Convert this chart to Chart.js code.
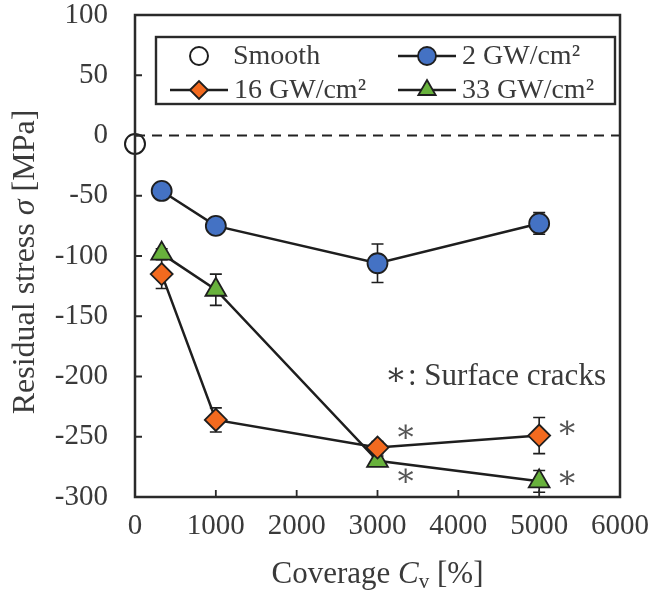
<!DOCTYPE html>
<html>
<head>
<meta charset="utf-8">
<script src="https://cdn.jsdelivr.net/npm/chart.js@4.4.6/dist/chart.umd.min.js"></script>
<style>
  html, body { margin: 0; background: #fff; }
</style>
</head>
<body>
<canvas id="chart" width="654" height="602"></canvas>
<script>
  // values
  const coverage = [330, 1000, 3000, 5000];
  const smoothCoverage = [0];
  const smoothStress = [-7];
  const stress2 = [-46, -75, -106, -73];
  const err2 = [3, 4, 16, 9];
  const stress16 = [-115, -236, -259, -249];
  const err16 = [12, 10, 5, 15];
  const stress33 = [-98, -128, -270, -287];
  const err33 = [4, 13, 4, 9];
  const xTicks = [0, 1000, 2000, 3000, 4000, 5000, 6000];
  const yTicks = [100, 50, 0, -50, -100, -150, -200, -250, -300];
  const zeroLine = [0, 6000];

  const serif = "'Liberation Serif', 'DejaVu Serif', serif";
  const ink = "#1e1e1e";
  const textGray = "#3a3a3a";

  function points(xs, ys) {
    return xs.map((x, i) => ({ x: x, y: ys[i] }));
  }

  function series(label, ys, errs, color, style, radius) {
    return {
      label: label,
      data: points(coverage, ys),
      errors: errs,
      showLine: true,
      borderColor: ink,
      borderWidth: 2.5,
      pointStyle: style,
      pointRadius: radius,
      pointBackgroundColor: color,
      pointBorderColor: ink,
      pointBorderWidth: 1.8,
      clip: false
    };
  }

  const datasets = [
    {
      label: "zero",
      data: zeroLine.map(x => ({ x: x, y: 0 })),
      showLine: true,
      borderColor: "#222",
      borderWidth: 2.2,
      borderDash: [10, 7],
      pointRadius: 0
    },
    series("16 GW/cm²", stress16, err16, "#f26a1f", "rectRot", 11),
    series("33 GW/cm²", stress33, err33, "#68b23c", "triangle", 12),
    series("2 GW/cm²", stress2, err2, "#4472c4", "circle", 10),
    {
      label: "Smooth",
      data: points(smoothCoverage, smoothStress),
      pointStyle: "circle",
      pointRadius: 10,
      pointBackgroundColor: "#fff",
      pointBorderColor: ink,
      pointBorderWidth: 2,
      clip: false
    }
  ];

  // crack markers: dataset label, point index, offset from the point
  const cracks = [
    { set: "16 GW/cm²", i: 2, dx: 28, dy: -14 },
    { set: "33 GW/cm²", i: 2, dx: 28, dy: 17 },
    { set: "16 GW/cm²", i: 3, dx: 28, dy: -6 },
    { set: "33 GW/cm²", i: 3, dx: 28, dy: -2 }
  ];

  function drawRuns(ctx, runs, x, y, align) {
    let total = 0;
    runs.forEach(r => { ctx.font = r.font; total += ctx.measureText(r.text).width; });
    let cx = align === "center" ? x - total / 2 : x;
    runs.forEach(r => {
      ctx.font = r.font;
      ctx.fillText(r.text, cx, y + (r.dy || 0));
      cx += ctx.measureText(r.text).width;
    });
  }

  const decor = {
    id: "decor",
    beforeDatasetsDraw(chart) {
      const ctx = chart.ctx;
      const xs = chart.scales.x, ys = chart.scales.y;
      ctx.save();
      ctx.strokeStyle = ink;
      ctx.lineWidth = 1.6;
      chart.data.datasets.forEach(ds => {
        if (!ds.errors) return;
        ds.data.forEach((p, i) => {
          const px = xs.getPixelForValue(p.x);
          const top = ys.getPixelForValue(p.y + ds.errors[i]);
          const bot = ys.getPixelForValue(p.y - ds.errors[i]);
          ctx.beginPath();
          ctx.moveTo(px, top); ctx.lineTo(px, bot);
          ctx.moveTo(px - 6, top); ctx.lineTo(px + 6, top);
          ctx.moveTo(px - 6, bot); ctx.lineTo(px + 6, bot);
          ctx.stroke();
        });
      });
      ctx.restore();
    },
    afterDraw(chart) {
      const ctx = chart.ctx;
      const a = chart.chartArea;
      const xs = chart.scales.x, ys = chart.scales.y;
      ctx.save();

      // frame and inner ticks
      ctx.strokeStyle = "#2a2a2a";
      ctx.lineWidth = 2.5;
      ctx.strokeRect(a.left, a.top, a.right - a.left, a.bottom - a.top);
      ctx.lineWidth = 1.8;
      ctx.beginPath();
      xTicks.forEach(v => {
        const px = xs.getPixelForValue(v);
        ctx.moveTo(px, a.bottom); ctx.lineTo(px, a.bottom - 7);
      });
      yTicks.forEach(v => {
        const py = ys.getPixelForValue(v);
        ctx.moveTo(a.left, py); ctx.lineTo(a.left + 7, py);
      });
      ctx.stroke();

      // legend
      const lx = a.left + 21, ly = a.top + 22, lw = a.right - 5 - lx, lh = 67;
      ctx.fillStyle = "#fff";
      ctx.fillRect(lx, ly, lw, lh);
      ctx.lineWidth = 2.4;
      ctx.strokeStyle = "#2a2a2a";
      ctx.strokeRect(lx, ly, lw, lh);
      const byLabel = {};
      chart.data.datasets.forEach((ds, i) => { byLabel[ds.label] = i; });
      const entries = [
        { label: "Smooth", col: 0, row: 0, line: false },
        { label: "2 GW/cm²", col: 1, row: 0, line: true },
        { label: "16 GW/cm²", col: 0, row: 1, line: true },
        { label: "33 GW/cm²", col: 1, row: 1, line: true }
      ];
      entries.forEach(e => {
        const ds = chart.data.datasets[byLabel[e.label]];
        const x0 = lx + 14 + e.col * 228;
        const y0 = ly + 19 + e.row * 34;
        const mx = x0 + 29;
        if (e.line) {
          ctx.strokeStyle = ink;
          ctx.lineWidth = 2.5;
          ctx.beginPath(); ctx.moveTo(x0, y0); ctx.lineTo(x0 + 58, y0); ctx.stroke();
        }
        ctx.fillStyle = ds.pointBackgroundColor;
        ctx.strokeStyle = ink;
        ctx.lineWidth = ds.pointBorderWidth;
        Chart.helpers.drawPoint(ctx, {
          pointStyle: ds.pointStyle,
          radius: ds.pointStyle === "triangle" ? 10 : 9,
          borderWidth: ds.pointBorderWidth
        }, mx, y0);
        ctx.fillStyle = textGray;
        ctx.font = "28px " + serif;
        ctx.textBaseline = "middle";
        ctx.textAlign = "left";
        ctx.fillText(e.label, e.line ? x0 + 64 : x0 + 63, y0 + 1);
      });

      // crack notes
      ctx.fillStyle = "#555";
      ctx.font = "32px " + serif;
      ctx.textAlign = "center";
      ctx.textBaseline = "middle";
      cracks.forEach(c => {
        const ds = chart.data.datasets[byLabel[c.set]];
        const p = ds.data[c.i];
        ctx.fillText("∗", xs.getPixelForValue(p.x) + c.dx, ys.getPixelForValue(p.y) + c.dy);
      });
      ctx.textAlign = "left";
      ctx.fillStyle = textGray;
      ctx.fillText("∗", a.left + 250, a.top + 362);
      ctx.font = "31px " + serif;
      ctx.fillText(": Surface cracks", a.left + 273, a.top + 362);

      // axis titles
      ctx.fillStyle = textGray;
      ctx.textAlign = "left";
      ctx.textBaseline = "middle";
      const roman = "31px " + serif, italic = "italic 31px " + serif;
      drawRuns(ctx, [
        { text: "Coverage ", font: roman },
        { text: "C", font: italic },
        { text: "v", font: "21px " + serif, dy: 7 },
        { text: " [%]", font: roman }
      ], (a.left + a.right) / 2, 575, "center");
      ctx.translate(26, (a.top + a.bottom) / 2 + 6);
      ctx.rotate(-Math.PI / 2);
      drawRuns(ctx, [
        { text: "Residual stress ", font: "32px " + serif },
        { text: "σ", font: "italic 32px " + serif },
        { text: " [MPa]", font: "32px " + serif }
      ], 0, 0, "center");
      ctx.restore();
    }
  };

  const tickFont = { family: serif, size: 29 };

  new Chart(document.getElementById("chart"), {
    type: "scatter",
    data: { datasets: datasets },
    options: {
      responsive: false,
      animation: false,
      devicePixelRatio: 1,
      layout: { padding: { left: 0, right: 34, top: 15, bottom: 0 } },
      plugins: { legend: { display: false }, tooltip: { enabled: false } },
      scales: {
        x: {
          type: "linear",
          min: 0, max: 6000,
          afterBuildTicks: s => { s.ticks = xTicks.map(v => ({ value: v })); },
          afterFit: s => { s.height = 105; s.paddingLeft = 0; s.paddingRight = 0; },
          grid: { display: false, drawTicks: false },
          border: { display: false },
          ticks: { font: tickFont, color: textGray, padding: 12, maxRotation: 0, autoSkip: false, callback: v => String(v) }
        },
        y: {
          type: "linear",
          min: -300, max: 100,
          afterBuildTicks: s => { s.ticks = yTicks.map(v => ({ value: v })); },
          afterFit: s => { s.width = 135; s.paddingTop = 0; s.paddingBottom = 0; },
          grid: { display: false, drawTicks: false },
          border: { display: false },
          ticks: { font: tickFont, color: textGray, padding: 27, autoSkip: false, callback: v => String(v) }
        }
      }
    },
    plugins: [decor]
  });
</script>
</body>
</html>
